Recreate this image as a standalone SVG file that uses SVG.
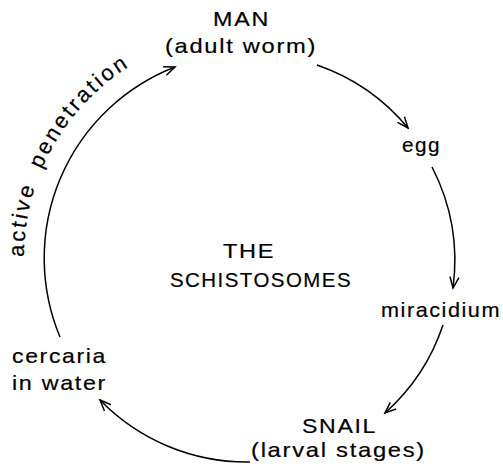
<svg xmlns="http://www.w3.org/2000/svg" width="503" height="468" viewBox="0 0 503 468">
  <defs>
    <style>
      text { font-family: "Liberation Sans", Arial, sans-serif; font-size: 21px; fill: #000; stroke: #000; stroke-width: 0.2; letter-spacing: 1.5px; }
      .cap { font-size: 20px; }
      .big { font-size: 21px; }
      .conn { fill: none; stroke: #000; stroke-width: 1.5; }
    </style>
    <marker id="arr" markerUnits="userSpaceOnUse" markerWidth="16" markerHeight="16" refX="0" refY="0" viewBox="-12 -8 14 16" orient="auto" overflow="visible">
      <path d="M-11,-4.5 L0,0 L-11,4.5" fill="none" stroke="#000" stroke-width="1.5" stroke-linejoin="miter"/>
    </marker>
    <path id="tp" d="M24,257 A225,225 0 0 1 249,32"/>
  </defs>
  <rect width="503" height="468" fill="#fff"/>

  <g id="connectors">
    <path class="conn" d="M317,65 A205,205 0 0 1 408,128" marker-end="url(#arr)"/>
    <path class="conn" d="M432,167 A205,205 0 0 1 453,288" marker-end="url(#arr)"/>
    <path class="conn" d="M443,325 A205,205 0 0 1 385,413" marker-end="url(#arr)"/>
    <path class="conn" d="M250,462 A205,205 0 0 1 100,400" marker-end="url(#arr)"/>
    <path class="conn" d="M60,337 A205,205 0 0 1 175,67" marker-end="url(#arr)"/>
    <text id="active-penetration" style="font-size:22px; letter-spacing:2.6px" word-spacing="8"><textPath href="#tp">active penetration</textPath></text>
  </g>

  <g id="man">
    <text x="213" y="26" class="cap" textLength="57" lengthAdjust="spacingAndGlyphs">MAN</text>
    <text x="165" y="53" textLength="152" lengthAdjust="spacingAndGlyphs">(adult worm)</text>
  </g>
  <g id="egg">
    <text x="402" y="152" textLength="39" lengthAdjust="spacingAndGlyphs">egg</text>
  </g>
  <g id="miracidium">
    <text x="381" y="317" textLength="120" lengthAdjust="spacingAndGlyphs">miracidium</text>
  </g>
  <g id="snail">
    <text x="302" y="433" class="big" textLength="75" lengthAdjust="spacingAndGlyphs">SNAIL</text>
    <text x="251" y="457" textLength="175" lengthAdjust="spacingAndGlyphs">(larval stages)</text>
  </g>
  <g id="cercaria">
    <text x="12" y="363" textLength="95" lengthAdjust="spacingAndGlyphs">cercaria</text>
    <text x="12" y="390" textLength="95" lengthAdjust="spacingAndGlyphs">in water</text>
  </g>
  <g id="title">
    <text x="223" y="258" class="big" textLength="52" lengthAdjust="spacingAndGlyphs">THE</text>
    <text x="170" y="287" class="big" textLength="182" lengthAdjust="spacingAndGlyphs">SCHISTOSOMES</text>
  </g>
</svg>
